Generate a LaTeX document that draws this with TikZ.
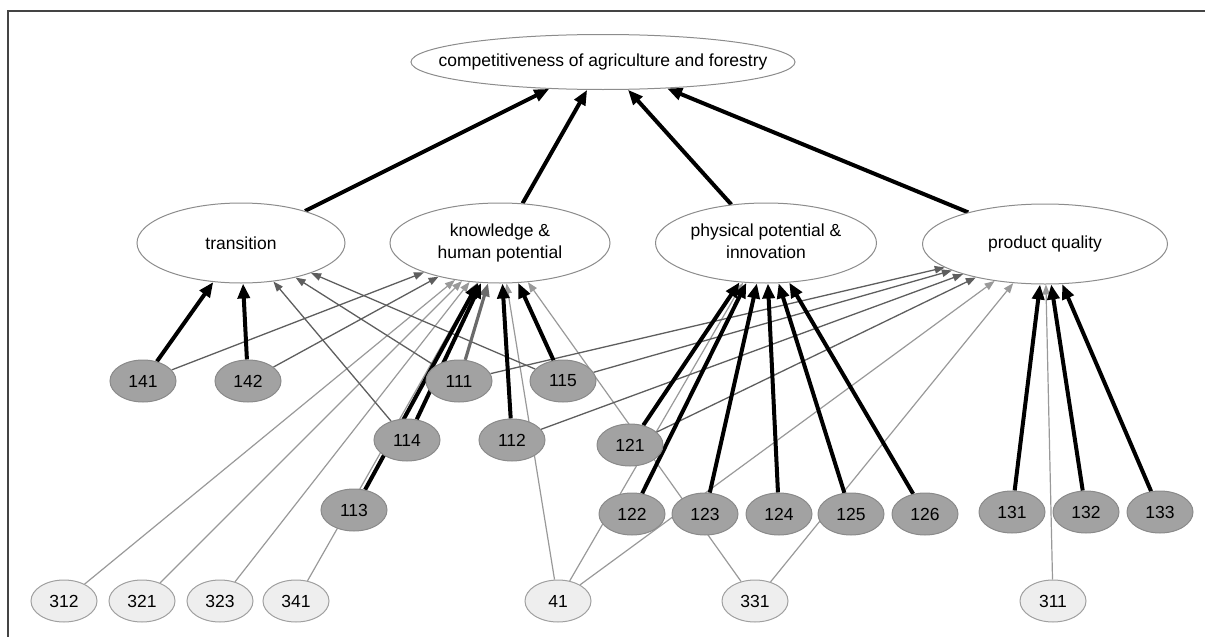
\documentclass[tikz,border=0pt]{standalone}
\usepackage{fontspec}
\setmainfont{Liberation Sans}
\usetikzlibrary{shapes.geometric,arrows.meta,backgrounds}
\definecolor{nodeborder}{HTML}{8C8C8C}
\definecolor{dkfill}{HTML}{A2A2A2}
\definecolor{dkborder}{HTML}{8A8A8A}
\definecolor{ltfill}{HTML}{EEEEEE}
\definecolor{ltborder}{HTML}{A0A0A0}
\definecolor{edgedark}{HTML}{5E5E5E}
\definecolor{edgelight}{HTML}{999999}
\definecolor{edgemid}{HTML}{6A6A6A}
\definecolor{framec}{HTML}{444444}
\newcommand{\zbox}[1]{\makebox[0pt]{#1}}
\begin{document}
\begin{tikzpicture}[x=1pt,y=-1pt,
  font=\fontsize{17.5}{22}\selectfont,
  basenode/.style={ellipse, inner sep=0pt, line width=1pt},
  nodetop/.style={basenode, draw=nodeborder, fill=white, minimum width=384pt, minimum height=55pt},
  nodemid/.style={basenode, draw=nodeborder, fill=white, minimum height=80pt},
  nodedk/.style={basenode, draw=dkborder, fill=dkfill, minimum width=66pt, minimum height=42pt},
  nodelt/.style={basenode, draw=ltborder, fill=ltfill, minimum width=66pt, minimum height=42pt},
  estrong/.style={line width=4pt, black, -{Triangle[length=15pt,width=12pt]}},
  emid/.style={line width=3.2pt, edgemid, -{Triangle[length=13pt,width=10pt]}},
  eweak/.style={line width=1.3pt, edgedark, -{Triangle[length=10pt,width=7.5pt]}},
  efaint/.style={line width=1.2pt, edgelight, -{Triangle[length=10pt,width=7.5pt]}}
]
\useasboundingbox (0,0) rectangle (1205,637);
\draw[framec, line width=1.5pt] (8,637) -- (8,11) -- (1205,11);

% top and second level
\node[nodetop] (top) at (603,62) {\zbox{competitiveness of agriculture and forestry}};
\node[nodemid, minimum width=208pt] (trans) at (241,243) {\zbox{transition}};
\node[nodemid, minimum width=220pt] (know) at (500,243) {\zbox{\begin{tabular}{@{}c@{}}knowledge \&\\human potential\end{tabular}}};
\node[nodemid, minimum width=221pt] (phys) at (766,243) {\zbox{\begin{tabular}{@{}c@{}}physical potential \&\\innovation\end{tabular}}};
\node[nodemid, minimum width=245pt] (qual) at (1045,244) {\zbox{product quality}};

% measures (dark)
\node[nodedk] (n141) at (143,381) {\zbox{141}};
\node[nodedk] (n142) at (248,381) {\zbox{142}};
\node[nodedk] (n111) at (459,381) {\zbox{111}};
\node[nodedk] (n115) at (563,381) {\zbox{115}};
\node[nodedk] (n114) at (407,440) {\zbox{114}};
\node[nodedk] (n112) at (512,440) {\zbox{112}};
\node[nodedk] (n121) at (630,445) {\zbox{121}};
\node[nodedk] (n113) at (354,510) {\zbox{113}};
\node[nodedk] (n122) at (632,514) {\zbox{122}};
\node[nodedk] (n123) at (705,514) {\zbox{123}};
\node[nodedk] (n124) at (779,514) {\zbox{124}};
\node[nodedk] (n125) at (851,514) {\zbox{125}};
\node[nodedk] (n126) at (925,514) {\zbox{126}};
\node[nodedk] (n131) at (1012,512) {\zbox{131}};
\node[nodedk] (n132) at (1086,512) {\zbox{132}};
\node[nodedk] (n133) at (1160,512) {\zbox{133}};

% measures (light)
\node[nodelt] (n312) at (64,601) {\zbox{312}};
\node[nodelt] (n321) at (142,601) {\zbox{321}};
\node[nodelt] (n323) at (220,601) {\zbox{323}};
\node[nodelt] (n341) at (296,601) {\zbox{341}};
\node[nodelt] (n41) at (558,601) {\zbox{41}};
\node[nodelt] (n331) at (755,601) {\zbox{331}};
\node[nodelt] (n311) at (1053,601) {\zbox{311}};

\begin{pgfonlayer}{background}
% faint connectors
\draw[efaint] (n312) -- (know);
\draw[efaint] (n321) -- (know);
\draw[efaint] (n323) -- (know);
\draw[efaint] (n341) -- (know);
\draw[efaint] (n41) -- (know);
\draw[efaint] (n331) -- (know);
\draw[efaint] (n41) -- (phys);
\draw[efaint] (n41) -- (qual);
\draw[efaint] (n331) -- (qual);
\draw[efaint] (n311) -- (qual);
% weak connectors
\draw[eweak] (n114) -- (trans);
\draw[eweak] (n111) -- (trans);
\draw[eweak] (n115) -- (trans);
\draw[eweak] (n141) -- (know);
\draw[eweak] (n142) -- (know);
\draw[eweak] (n111) -- (qual);
\draw[eweak] (n115) -- (qual);
\draw[eweak] (n112) -- (qual);
\draw[eweak] (n121) -- (qual);
% medium connector
\draw[emid] (n111) -- (know);
% strong connectors
\draw[estrong] (trans) -- (top);
\draw[estrong] (know) -- (top);
\draw[estrong] (phys) -- (top);
\draw[estrong] (qual) -- (top);
\draw[estrong] (n141) -- (trans);
\draw[estrong] (n142) -- (trans);
\draw[estrong] (n113) -- (know);
\draw[estrong] (n114) -- (know);
\draw[estrong] (n112) -- (know);
\draw[estrong] (n115) -- (know);
\draw[estrong] (n121) -- (phys);
\draw[estrong] (n122) -- (phys);
\draw[estrong] (n123) -- (phys);
\draw[estrong] (n124) -- (phys);
\draw[estrong] (n125) -- (phys);
\draw[estrong] (n126) -- (phys);
\draw[estrong] (n131) -- (qual);
\draw[estrong] (n132) -- (qual);
\draw[estrong] (n133) -- (qual);
\end{pgfonlayer}
\end{tikzpicture}
\end{document}
